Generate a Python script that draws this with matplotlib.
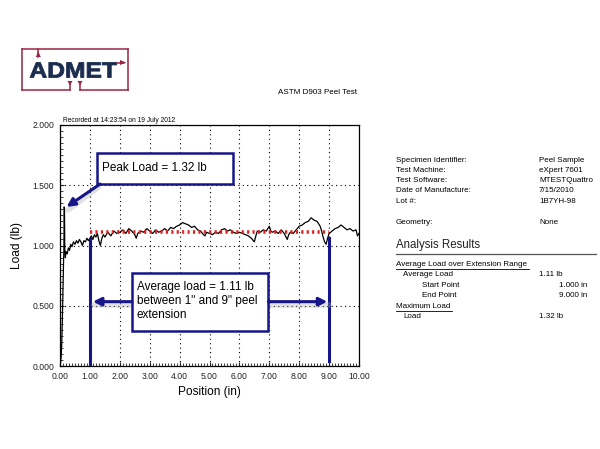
import matplotlib
matplotlib.use("Agg")
import matplotlib.pyplot as plt
from matplotlib.patches import Rectangle, Polygon, PathPatch
from matplotlib.lines import Line2D
from matplotlib.textpath import TextPath
from matplotlib.font_manager import FontProperties
from matplotlib.transforms import Affine2D
from matplotlib.ticker import MultipleLocator, FormatStrFormatter

plt.rcParams["font.family"] = ["Liberation Sans", "DejaVu Sans"]

# peel curve
pos_in = [0.00, 0.02, 0.04, 0.06, 0.08, 0.10, 0.12, 0.13, 0.14, 0.15, 0.16, 0.18,
          0.20, 0.24, 0.28, 0.32, 0.36, 0.40, 0.45, 0.50, 0.55, 0.60, 0.65, 0.70,
          0.75, 0.80, 0.85, 0.90, 0.95, 1.00, 1.05, 1.10, 1.15, 1.20, 1.25, 1.30,
          1.35, 1.40, 1.45, 1.50, 1.60, 1.70, 1.80, 1.90, 2.00, 2.10, 2.20, 2.30,
          2.40, 2.50, 2.55, 2.60, 2.70, 2.80, 2.90, 3.00, 3.10, 3.20, 3.30, 3.40,
          3.50, 3.60, 3.70, 3.80, 3.90, 4.00, 4.10, 4.20, 4.30, 4.40, 4.50, 4.60,
          4.70, 4.80, 4.85, 4.90, 5.00, 5.10, 5.20, 5.30, 5.40, 5.50, 5.60, 5.70,
          5.80, 5.90, 6.00, 6.10, 6.20, 6.30, 6.40, 6.50, 6.55, 6.60, 6.70, 6.80,
          6.90, 7.00, 7.05, 7.10, 7.20, 7.30, 7.40, 7.50, 7.60, 7.65, 7.70, 7.80,
          7.90, 8.00, 8.10, 8.20, 8.30, 8.40, 8.50, 8.60, 8.70, 8.75, 8.80, 8.85,
          8.90, 8.95, 9.00, 9.10, 9.20, 9.30, 9.40, 9.50, 9.60, 9.70, 9.80, 9.90,
          9.95, 10.00]
load_lb = [0.00, 0.03, 0.08, 0.20, 0.40, 0.65, 0.88, 0.95, 1.32, 1.30, 0.97, 0.90,
           0.95, 0.93, 0.98, 0.96, 1.01, 0.99, 1.03, 1.01, 1.04, 1.02, 1.05, 1.03,
           1.00, 1.04, 1.03, 1.06, 1.04, 1.06, 1.08, 1.05, 1.09, 1.07, 1.10, 1.04,
           1.00, 1.06, 1.09, 1.07, 1.11, 1.08, 1.12, 1.10, 1.11, 1.13, 1.10, 1.14,
           1.12, 1.09, 1.06, 1.10, 1.12, 1.11, 1.14, 1.12, 1.10, 1.13, 1.11, 1.12,
           1.14, 1.12, 1.15, 1.14, 1.16, 1.17, 1.19, 1.18, 1.17, 1.15, 1.16, 1.13,
           1.12, 1.09, 1.08, 1.11, 1.10, 1.09, 1.11, 1.10, 1.13, 1.14, 1.12, 1.13,
           1.11, 1.10, 1.11, 1.10, 1.09, 1.08, 1.06, 1.03, 1.08, 1.12, 1.11, 1.13,
           1.12, 1.16, 1.12, 1.11, 1.12, 1.10, 1.13, 1.10, 1.05, 1.09, 1.11, 1.10,
           1.13, 1.16, 1.17, 1.19, 1.20, 1.23, 1.21, 1.20, 1.16, 1.12, 1.07, 1.03,
           1.01, 1.06, 1.10, 1.12, 1.14, 1.15, 1.17, 1.15, 1.13, 1.14, 1.12, 1.13,
           1.08, 1.10]

avg_start = 1.0
avg_end = 9.0
avg_load = 1.11
peak_pos = 0.14
peak_load = 1.32

x_ticks = [0, 1, 2, 3, 4, 5, 6, 7, 8, 9, 10]
y_ticks = [0.0, 0.5, 1.0, 1.5, 2.0]

info_labels = ["Specimen Identifier:", "Test Machine:", "Test Software:",
               "Date of Manufacture:", "Lot #:"]
info_values = ["Peel Sample", "eXpert 7601", "MTESTQuattro", "7/15/2010", "1B7YH-98"]

NAVY = "#16168a"
RED = "#e5211d"

fig = plt.figure(figsize=(6.0, 4.49), dpi=100)
# pixel coordinates, y going down
px = Affine2D().scale(1 / 600, -1 / 449).translate(0, 1) + fig.transFigure

ax = fig.add_axes([60 / 600, 1 - 366 / 449, 299 / 600, 241 / 449])
ax.plot(pos_in, load_lb, color="black", lw=0.9, zorder=3)
ax.plot([avg_start, avg_end], [avg_load, avg_load], color=RED, lw=2.6,
        ls=(0, (0.6, 0.9)), zorder=4)

ax.set_xlim(0, 10)
ax.set_ylim(0, 2)
ax.set_xticks(x_ticks)
ax.set_yticks(y_ticks)
ax.xaxis.set_major_formatter(FormatStrFormatter("%.2f"))
ax.yaxis.set_major_formatter(FormatStrFormatter("%.3f"))
ax.xaxis.set_minor_locator(MultipleLocator(0.1))
ax.yaxis.set_minor_locator(MultipleLocator(0.05))
ax.tick_params(which="both", direction="in", labelsize=6.2, colors="#222222",
               top=False, right=False)
ax.tick_params(which="major", length=3, pad=4)
ax.tick_params(which="minor", length=2, width=0.6)
ax.grid(True, which="major", color="black", ls=(0, (1, 3)), lw=0.8)
for sp in ax.spines.values():
    sp.set_linewidth(0.9)
ax.set_xlabel("Position (in)", fontsize=8.6, labelpad=0)
ax.set_ylabel("Load (lb)", fontsize=8.6)
ax.xaxis.set_label_coords(0.5, -0.083)
ax.yaxis.set_label_coords(-0.124, 0.5)

# vertical range markers
ax.plot([avg_start + 0.02, avg_start + 0.02], [0.02, 1.05], color=NAVY, lw=2.2, zorder=5)
ax.plot([avg_end, avg_end], [0.04, 1.06], color=NAVY, lw=2.2, zorder=5)


def arrow(tail, tip):
    # soft grey shadow under each callout arrow
    ax.plot([tail[0] - 0.05, tip[0] + 0.05], [tail[1] - 0.025, tip[1] - 0.025],
            color="#aaaaaa", lw=4, alpha=0.35, solid_capstyle="round", zorder=5)
    ax.annotate("", xy=tip, xytext=tail,
                arrowprops=dict(arrowstyle="-|>", color=NAVY, lw=2.2,
                                mutation_scale=12, shrinkA=0, shrinkB=0),
                zorder=6)


# average load box and arrows
ax.add_patch(Rectangle((2.40, 0.293), 4.57, 0.481, facecolor="white",
                       edgecolor=NAVY, lw=1.8, zorder=6))
ax.text(2.57, 0.54, f"Average load = {avg_load:.2f} lb\nbetween 1\" and 9\" peel\nextension",
        fontsize=8.5, va="center", ha="left", linespacing=1.2, zorder=7)
arrow((2.40, 0.534), (avg_start + 0.1, 0.534))
arrow((6.97, 0.534), (avg_end - 0.06, 0.534))

# peak load box and arrow
ax.add_patch(Rectangle((1.24, 1.51), 4.55, 0.26, facecolor="white",
                       edgecolor=NAVY, lw=1.8, zorder=6))
ax.text(1.42, 1.64, f"Peak Load = {peak_load:.2f} lb", fontsize=8.5,
        va="center", ha="left", zorder=7)
arrow((1.34, 1.51), (peak_pos + 0.08, peak_load))

fig.text(63, 121, "Recorded at 14:23:54 on 19 July 2012", transform=px,
         fontsize=4.8, va="center", ha="left")
fig.text(357, 93, "ASTM D903 Peel Test", transform=px, fontsize=5.8,
         va="center", ha="right")

# logo
MAROON = "#9c2444"
LOGO_NAVY = "#1b2c4e"
logo_lines = [
    [(22, 49), (128, 49)], [(22, 49), (22, 90)], [(22, 90), (70, 90)],
    [(70, 90), (70, 84)], [(80, 84), (80, 90)], [(80, 90), (128, 90)],
    [(128, 49), (128, 90)], [(117, 62.5), (124, 62.5)], [(38.3, 49), (38.3, 57)],
]
for seg in logo_lines:
    xs, ys = zip(*seg)
    fig.add_artist(Line2D(xs, ys, transform=px, color=MAROON, lw=1.1))
for tri in [[(35.8, 57), (40.8, 57), (38.3, 51.5)],
            [(120, 60), (120, 65), (126, 62.5)],
            [(67.5, 81), (72.5, 81), (70, 85.5)],
            [(77.5, 81), (82.5, 81), (80, 85.5)]]:
    fig.add_artist(Polygon(tri, closed=True, transform=px, color=MAROON, lw=0))
tp = TextPath((0, 0), "ADMET", size=20,
              prop=FontProperties(family="Liberation Sans", weight="bold"))
ext = tp.get_extents()
sx = 86.7 / ext.width
sy = 15.0 / ext.height
logo_tr = Affine2D().translate(-ext.x0, -ext.y0).scale(sx, -sy).translate(30, 77.5) + px
fig.add_artist(PathPatch(tp, transform=logo_tr, facecolor=LOGO_NAVY,
                         edgecolor=LOGO_NAVY, lw=0.6))

# specimen info
row_y = [160, 170.3, 180.7, 191, 201.3]
for yy, lab, val in zip(row_y, info_labels, info_values):
    fig.text(396, yy, lab, transform=px, fontsize=5.8, va="center")
    fig.text(539, yy, val, transform=px, fontsize=5.8, va="center")
fig.text(396, 222.3, "Geometry:", transform=px, fontsize=5.8, va="center")
fig.text(539, 222.3, "None", transform=px, fontsize=5.8, va="center")

fig.text(396, 245, "Analysis Results", transform=px, fontsize=8.3, va="center",
         color="#222222")
fig.add_artist(Line2D([396, 596], [254, 254], transform=px, color="#555555", lw=0.9))

fig.text(396, 264.5, "Average Load over Extension Range", transform=px, fontsize=5.8,
         va="center")
fig.add_artist(Line2D([396, 529], [268.5, 268.5], transform=px, color="black", lw=0.6))
fig.text(403, 275, "Average Load", transform=px, fontsize=5.8, va="center")
fig.text(539, 275, f"{avg_load:.2f} lb", transform=px, fontsize=5.8, va="center")
fig.text(422, 285.7, "Start Point", transform=px, fontsize=5.8, va="center")
fig.text(587, 285.7, f"{avg_start:.3f} in", transform=px, fontsize=5.8, va="center",
         ha="right")
fig.text(422, 295.7, "End Point", transform=px, fontsize=5.8, va="center")
fig.text(587, 295.7, f"{avg_end:.3f} in", transform=px, fontsize=5.8, va="center",
         ha="right")
fig.text(396, 306, "Maximum Load", transform=px, fontsize=5.8, va="center")
fig.add_artist(Line2D([396, 452], [310.5, 310.5], transform=px, color="black", lw=0.6))
fig.text(403, 316, "Load", transform=px, fontsize=5.8, va="center")
fig.text(539, 316, f"{peak_load:.2f} lb", transform=px, fontsize=5.8, va="center")

fig.savefig("out.png", dpi=100)
